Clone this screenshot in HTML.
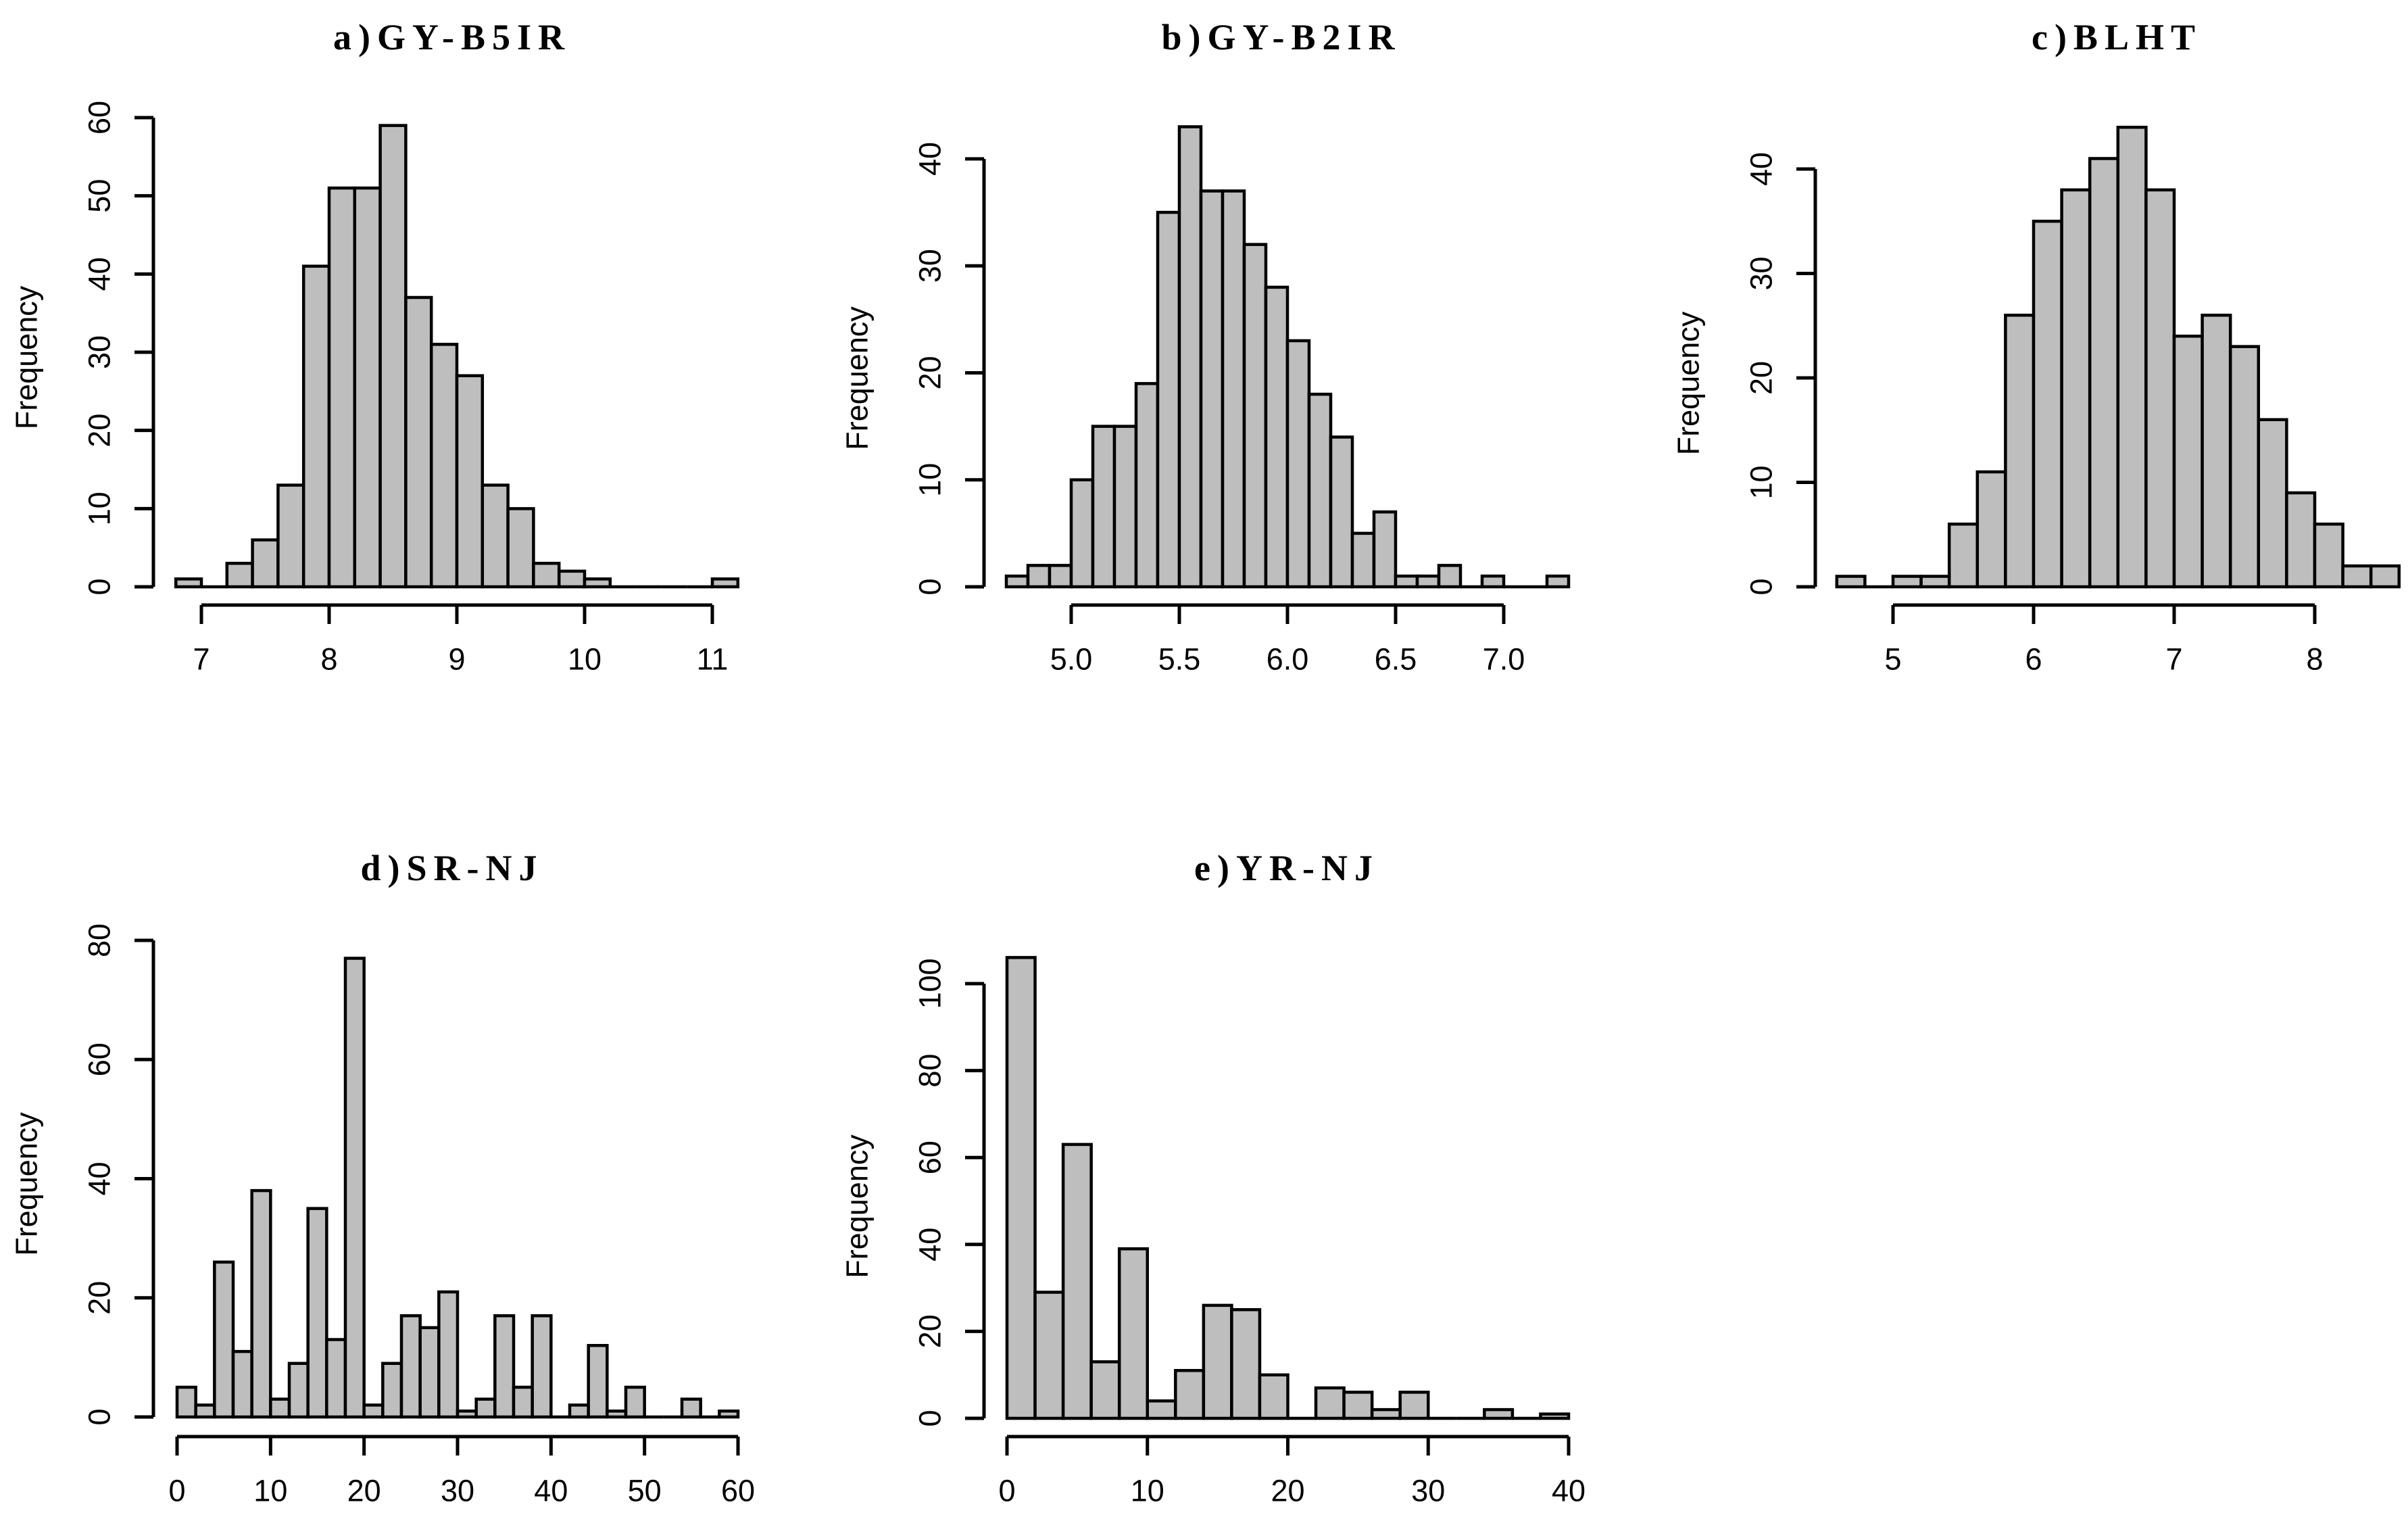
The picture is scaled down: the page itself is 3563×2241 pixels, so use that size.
<!DOCTYPE html>
<html><head><meta charset="utf-8"><style>
html,body{margin:0;padding:0;background:#fff;}
svg{display:block;}
text{font-family:"Liberation Sans",Arial,sans-serif;fill:#000;}
.title{font-family:"Liberation Serif","Noto Serif CJK SC",serif;font-size:54px;letter-spacing:10px;font-weight:bold;}
</style></head>
<body>
<svg id="chart" width="3563" height="2241" viewBox="0 0 3563 2241" xmlns="http://www.w3.org/2000/svg"></svg>
<script>
// ---- data ----
const titles = ["a)GY-B5IR", "b)GY-B2IR", "c)BLHT", "d)SR-NJ", "e)YR-NJ"];
const binStartA = 6.8, binWidthA = 0.2;
const countsA = [1,0,3,6,13,41,51,51,59,37,31,27,13,10,3,2,1,0,0,0,0,1];
const binStartB = 4.7, binWidthB = 0.1;
const countsB = [1,2,2,10,15,15,19,35,43,37,37,32,28,23,18,14,5,7,1,1,2,0,1,0,0,1];
const binStartC = 4.6, binWidthC = 0.2;
const countsC = [1,0,1,1,6,11,26,35,38,41,44,38,24,26,23,16,9,6,2,2];
const binStartD = 0, binWidthD = 2;
const countsD = [5,2,26,11,38,3,9,35,13,77,2,9,17,15,21,1,3,17,5,17,0,2,12,1,5,0,0,3,0,1];
const binStartE = 0, binWidthE = 2;
const countsE = [106,29,63,13,39,4,11,26,25,10,0,7,6,2,6,0,0,2,0,1];
const xTicksA = [7,8,9,10,11];
const xTicksB = [5.0,5.5,6.0,6.5,7.0];
const xTicksC = [5,6,7,8];
const xTicksD = [0,10,20,30,40,50,60];
const xTicksE = [0,10,20,30,40];
const yTicksA = [0,10,20,30,40,50,60];
const yTicksB = [0,10,20,30,40];
const yTicksC = [0,10,20,30,40];
const yTicksD = [0,20,40,60,80];
const yTicksE = [0,20,40,60,80,100];

// ---- layout (pixel calibration per panel) ----
const panels = [
 {key:"a", counts:countsA, start:binStartA, w:binWidthA, xt:xTicksA, yt:yTicksA, fmt:v=>String(v),
  ax:227, xv0:7, xp0:298, xv1:11, xp1:1054, y0:868, yv1:60, yp1:174, base:895, title:titles[0], tx:669, ty:54},
 {key:"b", counts:countsB, start:binStartB, w:binWidthB, xt:xTicksB, yt:yTicksB, fmt:v=>v.toFixed(1),
  ax:1456, xv0:5, xp0:1585, xv1:7, xp1:2225, y0:868, yv1:40, yp1:235, base:895, title:titles[1], tx:1896, ty:54},
 {key:"c", counts:countsC, start:binStartC, w:binWidthC, xt:xTicksC, yt:yTicksC, fmt:v=>String(v),
  ax:2686, xv0:5, xp0:2801, xv1:8, xp1:3425, y0:868, yv1:40, yp1:250, base:895, title:titles[2], tx:3132, ty:54},
 {key:"d", counts:countsD, start:binStartD, w:binWidthD, xt:xTicksD, yt:yTicksD, fmt:v=>String(v),
  ax:227, xv0:0, xp0:262, xv1:60, xp1:1092, y0:2096, yv1:80, yp1:1391, base:2125, title:titles[3], tx:669, ty:1283},
 {key:"e", counts:countsE, start:binStartE, w:binWidthE, xt:xTicksE, yt:yTicksE, fmt:v=>String(v),
  ax:1456, xv0:0, xp0:1490, xv1:40, xp1:2321, y0:2098, yv1:100, yp1:1455, base:2125, title:titles[4], tx:1904, ty:1283}
];
const NS = "http://www.w3.org/2000/svg";
const svg = document.getElementById("chart");
function mk(tag, attrs, parent){
  const e = document.createElementNS(NS, tag);
  for (const k in attrs) e.setAttribute(k, attrs[k]);
  parent.appendChild(e);
  return e;
}
panels.forEach(p=>{
  const xs = v => p.xp0 + (v - p.xv0) * (p.xp1 - p.xp0) / (p.xv1 - p.xv0);
  const ys = v => p.y0 - v * (p.y0 - p.yp1) / p.yv1;
  const g = mk("g", {}, svg);
  
  
  const t = mk("text", {x:p.tx, y:p.ty+19, "text-anchor":"middle", class:"title"}, g);
  t.textContent = p.title;
  
  
  const bars = mk("g", {}, g);
  
  
  p.counts.forEach((c,i)=>{
    const l = xs(p.start + i*p.w), r = xs(p.start + (i+1)*p.w);
    const top = ys(c);
    const d = `M${l},${p.y0} L${l},${top} L${r},${top} L${r},${p.y0} Z`;
    const bar = mk("path", {d:d, fill:"#bebebe", stroke:"#000", "stroke-width":4.5, "stroke-linejoin":"miter"}, bars);
    
    
  });
  const ya = mk("g", {stroke:"#000","stroke-width":5,fill:"none"}, g);
  
  
  const yt = p.yt;
  mk("line", {x1:p.ax, y1:ys(yt[0]), x2:p.ax, y2:ys(yt[yt.length-1])}, ya);
  yt.forEach(v=>{
    mk("line", {x1:p.ax-28, y1:ys(v), x2:p.ax, y2:ys(v)}, ya);
    const lx = p.ax - 80, ly = ys(v);
    const tx = mk("text", {x:lx, y:ly, "text-anchor":"middle", "dominant-baseline":"central", "font-size":45, stroke:"none", fill:"#000", transform:`rotate(-90 ${lx} ${ly})`}, g);
    tx.textContent = String(v);
    
    
  });
  const fy = (ys(yt[0]) + p.yp1) / 2 + 8;
  const fl = mk("text", {x:p.ax-188, y:fy, "text-anchor":"middle", "dominant-baseline":"central", "font-size":45, transform:`rotate(-90 ${p.ax-188} ${fy})`}, g);
  fl.textContent = "Frequency";
  
  
  const xa = mk("g", {stroke:"#000","stroke-width":5,fill:"none"}, g);
  
  
  const xt = p.xt;
  mk("line", {x1:xs(xt[0]), y1:p.base, x2:xs(xt[xt.length-1]), y2:p.base}, xa);
  xt.forEach(v=>{
    mk("line", {x1:xs(v), y1:p.base, x2:xs(v), y2:p.base+28}, xa);
    const tx = mk("text", {x:xs(v), y:p.base+80, "text-anchor":"middle", "dominant-baseline":"central", "font-size":45}, g);
    tx.textContent = p.fmt(v);
    
    
  });
});
</script>
</body></html>
